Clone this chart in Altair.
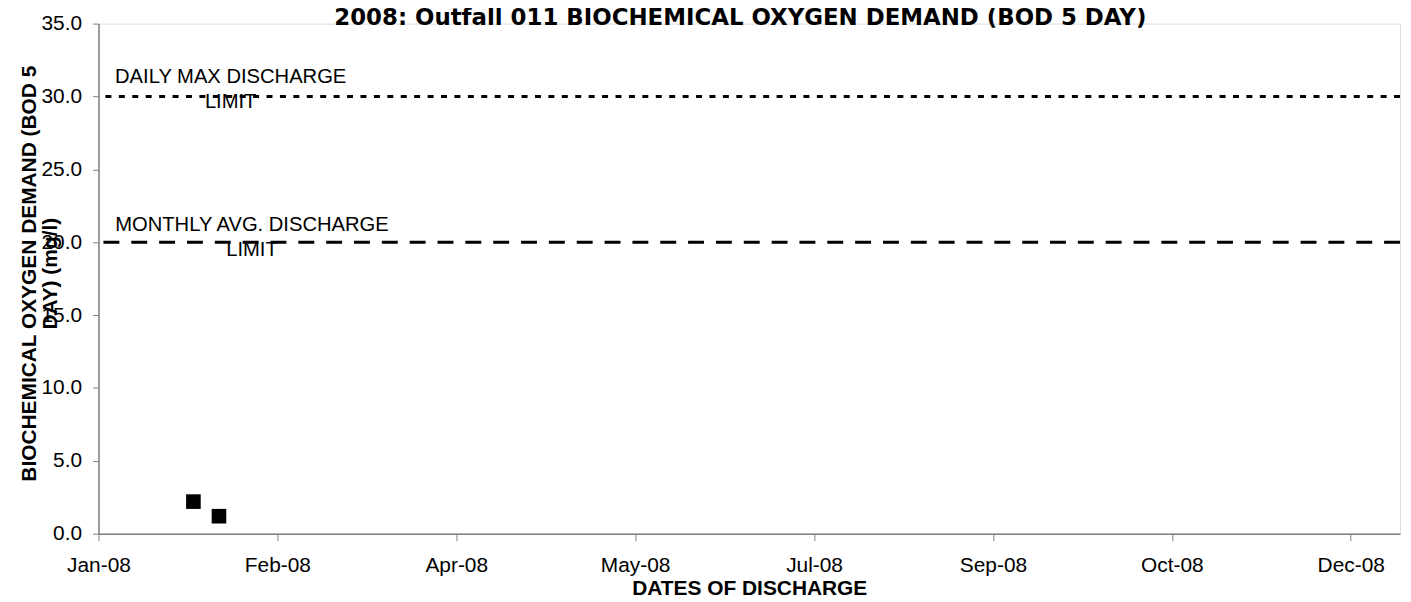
import altair as alt
import pandas as pd

# ---- data ----
sample_dates = ["2008-01-27", "2008-02-03"]
bod_values = [2.2, 1.2]

daily_max_limit = [30.0]
monthly_avg_limit = [20.0]

label_texts = ["DAILY MAX DISCHARGE\nLIMIT", "MONTHLY AVG. DISCHARGE\nLIMIT"]
label_dates = ["2008-02-06T05:00:00Z", "2008-02-12T01:00:00Z"]
label_values = [30.93, 20.76]

tick_month_days = [(1, 1), (2, 19), (4, 8), (5, 27), (7, 15), (9, 2), (10, 21), (12, 9)]
y_ticks = [0, 5, 10, 15, 20, 25, 30, 35]

FONT = "Liberation Sans"

pts = pd.DataFrame({"date": sample_dates, "bod": bod_values})
dmax = pd.DataFrame({"v": daily_max_limit})
mavg = pd.DataFrame({"v": monthly_avg_limit})
labels = pd.DataFrame({"date": label_dates, "v": label_values, "t": label_texts})

x_scale = alt.Scale(
    type="utc",
    domain=[alt.DateTime(year=2008, month=1, date=1, utc=True),
            alt.DateTime(year=2008, month=12, date=22, hours=12, utc=True)],
    nice=False,
)
y_scale = alt.Scale(domain=[0, 35], nice=False, zero=True)

x_axis = alt.Axis(
    values=[alt.DateTime(year=2008, month=m, date=d, utc=True) for m, d in tick_month_days],
    labelExpr="utcFormat(datum.value, '%b-%y')",
    title="DATES OF DISCHARGE",
    titleFont=FONT, titleFontSize=21, titleFontWeight="bold", titleColor="black",
    titleBaseline="alphabetic", titleY=61,
    labelFont=FONT, labelFontSize=21, labelColor="black", labelPadding=14,
    labelFlush=False, labelOverlap=False,
    tickSize=7, tickColor="#808080", domainColor="#808080", domainWidth=1.5,
    grid=False,
)
y_axis = alt.Axis(
    values=y_ticks, format=".1f",
    title=["BIOCHEMICAL OXYGEN DEMAND (BOD 5", "DAY) (mg/l)"],
    titleFont=FONT, titleFontSize=21, titleFontWeight="bold", titleColor="black",
    titleAngle=270, titleBaseline="alphabetic", titleAlign="center",
    titleX=-63, titleY=251, titleLineHeight=21,
    labelFont=FONT, labelFontSize=21, labelColor="black", labelPadding=11,
    tickSize=6, tickColor="#808080", domainColor="#808080", domainWidth=1.5,
    grid=False,
)

points = alt.Chart(pts).mark_point(shape="square", filled=True, size=216, color="black", opacity=1).encode(
    x=alt.X("date:T", scale=x_scale, axis=x_axis),
    y=alt.Y("bod:Q", scale=y_scale, axis=y_axis),
)

rule_max = alt.Chart(dmax).mark_rule(color="black", strokeWidth=3, strokeDash=[6, 7.5]).encode(
    y=alt.Y("v:Q", scale=y_scale)
)
rule_avg = alt.Chart(mavg).mark_rule(color="black", strokeWidth=3, strokeDash=[16, 12]).encode(
    y=alt.Y("v:Q", scale=y_scale)
)

text = alt.Chart(labels).mark_text(
    font=FONT, fontSize=20.3, color="black", align="center", baseline="alphabetic",
    lineBreak="\n", lineHeight=25.5,
).encode(
    x=alt.X("date:T", scale=x_scale),
    y=alt.Y("v:Q", scale=y_scale),
    text="t:N",
)

chart = alt.layer(rule_max, rule_avg, text, points).properties(
    width=1309, height=513,
    title=alt.TitleParams(
        "2008: Outfall 011 BIOCHEMICAL OXYGEN DEMAND (BOD 5 DAY)",
        font="DejaVu Sans", fontSize=23, fontWeight="bold", color="black",
        anchor="middle", baseline="alphabetic", offset=0, dx=-9, dy=35,
    ),
    autosize=alt.AutoSizeParams(type="none"),
    padding={"left": 91, "top": 14, "right": 3, "bottom": 66},
).configure_view(stroke=None).configure(background="white")

chart.save("out.html", embed_options={"renderer": "svg", "actions": False})
